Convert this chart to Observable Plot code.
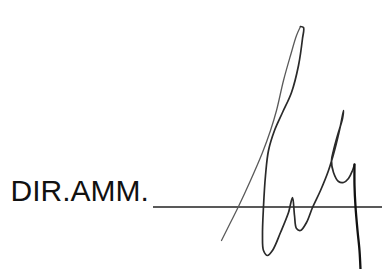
<!DOCTYPE html>
<html>
<head>
<meta charset="utf-8">
<script src="https://cdn.jsdelivr.net/npm/d3@7"></script>
<script src="https://cdn.jsdelivr.net/npm/@observablehq/plot@0.6"></script>
<style>
  html, body { margin: 0; padding: 0; background: #fff; }
  #chart { width: 382px; height: 269px; }
</style>
</head>
<body>
<div id="chart"></div>
<script>
// Label and signature line
const labelText = ["DIR.AMM."];
const labelX = [10];
const labelY = [200];
const lineY = [206.5];
const lineX1 = [153];
const lineX2 = [382];

// Signature strokes (pixel-space coordinates)
const strokeId = [
  "a","a","a","a","a","a","a","a","a","a","a",
  "b","b","b","b","b","b","b","b","b","b","b","b","b","b","b","b","b","b","b","b","b","b","b","b","b","b","b","b","b","b","b","b","b","b","b","b","b",
  "c","c","c","c","c","c"
];
const sigX = [
  221,230,238,250,262,270,276,283,290,296,300,
  300,303,302,298,291,282,274,268,265,263,262,263,267,272,280,288,292,294,296,300,306,312,320,328,334,340,343,342,337,333,331,333,338,343,348,352,354,
  354,354,355,357,359,360
];
const sigY = [
  240,222,206,180,152,130,110,80,55,35,26,
  26,27,38,65,92,112,130,150,175,206,235,250,255,250,232,212,197,215,228,230,222,207,190,170,150,125,110,118,135,150,160,172,181,182,178,170,164,
  164,185,206,230,250,269
];

const sig = sigX.map((x, i) => ({x, y: sigY[i], id: strokeId[i]}));
const label = labelText.map((t, i) => ({t, x: labelX[i], y: labelY[i]}));
const rule = lineY.map((y, i) => ({y, x1: lineX1[i], x2: lineX2[i]}));

const styles = {a: {stroke: "#5a5a5a", w: 1.3}, b: {stroke: "#2a2a2a", w: 1.7}, c: {stroke: "#111", w: 2.3}};

const plot = Plot.plot({
  width: 382,
  height: 269,
  margin: 0,
  x: {domain: [0, 382], axis: null},
  y: {domain: [269, 0], axis: null},
  style: {background: "#fff"},
  marks: [
    Plot.ruleY(rule, {y: "y", x1: "x1", x2: "x2", stroke: "#222", strokeWidth: 1.6}),
    ...["a", "b", "c"].map(k =>
      Plot.line(sig.filter(d => d.id === k), {x: "x", y: "y", curve: "catmull-rom", stroke: styles[k].stroke, strokeWidth: styles[k].w, strokeLinecap: "round", strokeLinejoin: "round"})
    ),
    Plot.text(label, {x: "x", y: "y", text: "t", textAnchor: "start", lineAnchor: "bottom", fontSize: 30, fontFamily: "Liberation Sans, Arial, sans-serif", fill: "#111"})
  ]
});
document.getElementById("chart").appendChild(plot);
</script>
</body>
</html>
